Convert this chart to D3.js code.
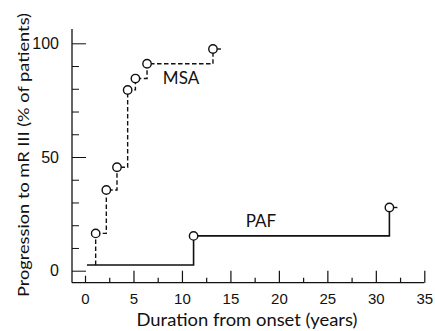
<!DOCTYPE html>
<html>
<head>
<meta charset="utf-8">
<script src="https://cdn.jsdelivr.net/npm/d3@7"></script>
<style>
  body { margin: 0; background: #fff; }
  svg { display: block; font-family: "Lato", "Noto Sans", sans-serif; }
  .tick text { font-size: 15px; fill: #111; }
</style>
</head>
<body>
<svg id="chart" width="435" height="331"></svg>
<script>
// values
const msaYears = [1.1, 2.2, 3.3, 4.4, 5.2, 6.4, 13.2]
const msaPct = [16.4, 35.5, 45.5, 79.5, 84.5, 91, 97.5]
const pafYears = [11.2, 31.4]
const pafPct = [15.3, 27.8]
const pafStart = 0.2
const basePct = 2.5
const xMajor = [0, 5, 10, 15, 20, 25, 30, 35]
const xMinor = [2.5, 7.5, 12.5, 17.5, 22.5, 27.5, 32.5]
const yMajor = [0, 50, 100]
const yMinor = [10, 20, 30, 40, 60, 70, 80, 90]

const svg = d3.select("#chart")
const x = d3.scaleLinear().domain([0, 35]).range([85, 424.3])
const y = d3.scaleLinear().domain([0, 100]).range([270.7, 43.3])
const axisX = 72, axisY = 282.7

// axis lines
svg.append("line").attr("x1", axisX).attr("x2", axisX).attr("y1", 29).attr("y2", axisY)
  .attr("stroke", "#111").attr("stroke-width", 1.3)
svg.append("line").attr("x1", axisX).attr("x2", x(35)).attr("y1", axisY).attr("y2", axisY)
  .attr("stroke", "#111").attr("stroke-width", 1.3)

// x axis
const gx = svg.append("g").attr("transform", `translate(0,${axisY})`)
  .call(d3.axisBottom(x).tickValues(xMajor).tickSize(-12).tickSizeOuter(0).tickPadding(11))
gx.select(".domain").remove()
gx.selectAll(".tick line").attr("stroke", "#111").attr("stroke-width", 1.2)
  .attr("y2", d => d === 0 ? -7 : -12)
const gx2 = svg.append("g").attr("transform", `translate(0,${axisY})`)
  .call(d3.axisBottom(x).tickValues(xMinor).tickSize(-5).tickSizeOuter(0).tickFormat(""))
gx2.select(".domain").remove()
gx2.selectAll(".tick line").attr("stroke", "#111").attr("stroke-width", 1.2)

// y axis
const gy = svg.append("g").attr("transform", `translate(${axisX},0)`)
  .call(d3.axisLeft(y).tickValues(yMajor).tickSize(-14).tickSizeOuter(0).tickPadding(13))
gy.select(".domain").remove()
gy.selectAll(".tick line").attr("stroke", "#111").attr("stroke-width", 1)
gy.selectAll(".tick text").style("font-size", "16px")
const gy2 = svg.append("g").attr("transform", `translate(${axisX},0)`)
  .call(d3.axisLeft(y).tickValues(yMinor).tickSize(-7).tickSizeOuter(0).tickFormat(""))
gy2.select(".domain").remove()
gy2.selectAll(".tick line").attr("stroke", "#111").attr("stroke-width", 1)

// step paths
const stepLine = d3.line().x(d => x(d[0])).y(d => y(d[1])).curve(d3.curveStepAfter)

const msaPts = msaYears.map((v, i) => [v, msaPct[i]])
svg.append("path").attr("d", stepLine(msaPts) + `M${x(msaYears[0])},${y(basePct)}V${y(msaPct[0])}`)
  .attr("fill", "none").attr("stroke", "#111").attr("stroke-width", 1.4)
  .attr("stroke-dasharray", "4.5,2.5")

const pafPts = [[pafStart, basePct]].concat(pafYears.map((v, i) => [v, pafPct[i]]))
svg.append("path").attr("d", stepLine(pafPts))
  .attr("fill", "none").attr("stroke", "#111").attr("stroke-width", 1.6)

// censor tails after last points
const tails = [[msaYears[msaYears.length - 1], msaPct[msaPct.length - 1]],
  [pafYears[pafYears.length - 1], pafPct[pafPct.length - 1]]]
svg.selectAll(".tail").data(tails).join("line").attr("class", "tail")
  .attr("x1", d => x(d[0]) + 4).attr("x2", d => x(d[0]) + 8)
  .attr("y1", d => y(d[1])).attr("y2", d => y(d[1]))
  .attr("stroke", "#111").attr("stroke-width", 1.4)

// circles
const pts = msaYears.map((v, i) => [v, msaPct[i]]).concat(pafYears.map((v, i) => [v, pafPct[i]]))
svg.selectAll(".pt").data(pts).join("circle").attr("class", "pt")
  .attr("cx", d => x(d[0])).attr("cy", d => y(d[1])).attr("r", 4.2)
  .attr("fill", "#fff").attr("stroke", "#111").attr("stroke-width", 1.4)

// labels
svg.append("text").attr("x", 181).attr("y", 84.3).attr("text-anchor", "middle")
  .style("font-size", "17px").attr("fill", "#111").text("MSA")
svg.append("text").attr("x", 261).attr("y", 226.7).attr("text-anchor", "middle")
  .style("font-size", "17px").attr("fill", "#111").text("PAF")

// titles
svg.append("text").attr("x", 247).attr("y", 326).attr("text-anchor", "middle")
  .style("font-size", "16.5px").attr("fill", "#111")
  .attr("textLength", 221).attr("lengthAdjust", "spacingAndGlyphs")
  .text("Duration from onset (years)")
svg.append("text").attr("transform", "translate(29,155) rotate(-90)").attr("text-anchor", "middle")
  .style("font-size", "16px").attr("fill", "#111")
  .attr("textLength", 284).attr("lengthAdjust", "spacingAndGlyphs")
  .text("Progression to mR III (% of patients)")
</script>
</body>
</html>
